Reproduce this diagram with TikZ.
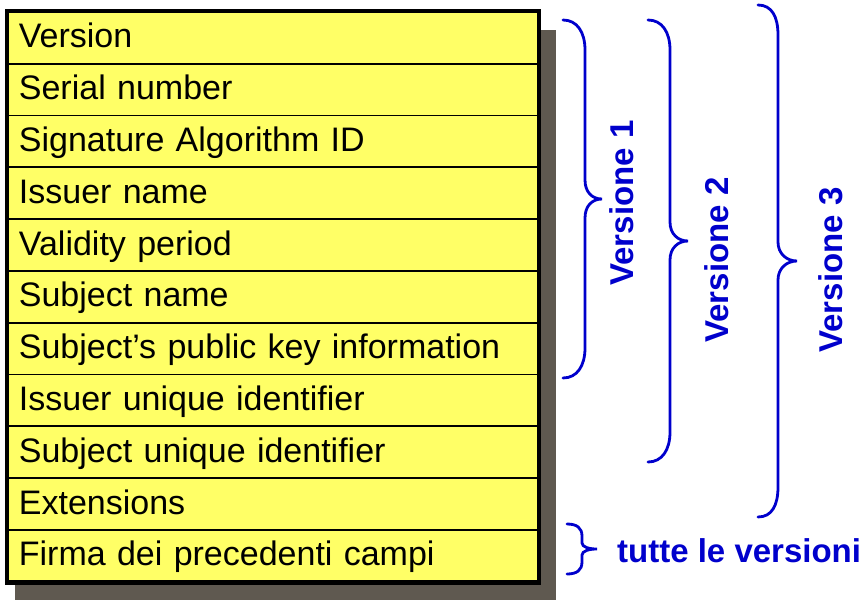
\documentclass[tikz,border=0pt]{standalone}
\usepackage{fontspec}
\setmainfont{Liberation Sans}
\usepackage{tikz}
\usetikzlibrary{positioning}
\definecolor{cert@yellow}{RGB}{255,255,102}
\definecolor{cert@shadow}{RGB}{95,89,80}
\definecolor{cert@blue}{RGB}{0,0,204}
\tikzset{
  cert/.style={
    x=1pt, y=-1pt,
    line join=miter
  },
  field/.style={                   % one row of the certificate
    draw=black, line width=1.8pt,
    fill=cert@yellow,
    anchor=north west,
    minimum height=51.8pt,
    text width=508pt, align=left,
    inner xsep=11pt, inner ysep=0pt,
    text height=25pt, text depth=5pt,
    font=\fontsize{34}{40}\selectfont
  },
  frame/.style={draw=black, line width=4.5pt},
  shadow/.style={fill=cert@shadow},
  verbrace/.style={draw=cert@blue, line width=2.8pt, line cap=round},
  vlabel/.style={
    text=cert@blue, font=\bfseries\fontsize{33}{38}\selectfont,
    inner sep=0pt
  }
}
\begin{document}
\begin{tikzpicture}[cert]
\useasboundingbox (0,0) rectangle (868,611);

% Shadow behind the table
\fill[shadow] (15,30) rectangle (556,600);

% Fields of the certificate
\foreach \txt [count=\i] in {Version, Serial number, Signature Algorithm ID,
  Issuer name, Validity period, Subject name,
  Subject's public key information, Issuer unique identifier,
  Subject unique identifier, Extensions, Firma dei precedenti campi}
  \node[field] (f\i) at (7,{11+51.8*(\i-1)}) {\txt};

% Outer frame
\draw[frame] (f1.north west) rectangle (f11.south east);

% Braces
\draw[verbrace] (563,20) .. controls +(14,0) and +(0,-18) .. (585,50) -- (585,180)
  .. controls +(0,12) and +(-10,0) .. (602,199)
  .. controls +(-10,0) and +(0,-12) .. (585,218) -- (585,348)
  .. controls +(0,18) and +(14,0) .. (563,378);
\draw[verbrace] (648,20) .. controls +(14,0) and +(0,-18) .. (670,50) -- (670,222)
  .. controls +(0,12) and +(-10,0) .. (688,241)
  .. controls +(-10,0) and +(0,-12) .. (670,260) -- (670,432)
  .. controls +(0,18) and +(14,0) .. (648,462);
\draw[verbrace] (758,5) .. controls +(14,0) and +(0,-18) .. (778,35) -- (778,242)
  .. controls +(0,12) and +(-10,0) .. (797,261)
  .. controls +(-10,0) and +(0,-12) .. (778,280) -- (778,487)
  .. controls +(0,18) and +(14,0) .. (758,517);
\draw[verbrace] (567,524) .. controls +(10,0) and +(0,-8) .. (582,536) -- (582,543)
  .. controls +(0,4) and +(-8,0) .. (597,549)
  .. controls +(-8,0) and +(0,-4) .. (582,555) -- (582,562)
  .. controls +(0,8) and +(10,0) .. (567,574);

% Labels
\node[vlabel, rotate=90, anchor=base] (v1) at (633,203) {Versione 1};
\node[vlabel, rotate=90, anchor=base] (v2) at (728,260) {Versione 2};
\node[vlabel, rotate=90, anchor=base] (v3) at (842,270) {Versione 3};
\node[vlabel, anchor=base west] (all) at (617,562) {tutte le versioni};

\end{tikzpicture}
\end{document}
